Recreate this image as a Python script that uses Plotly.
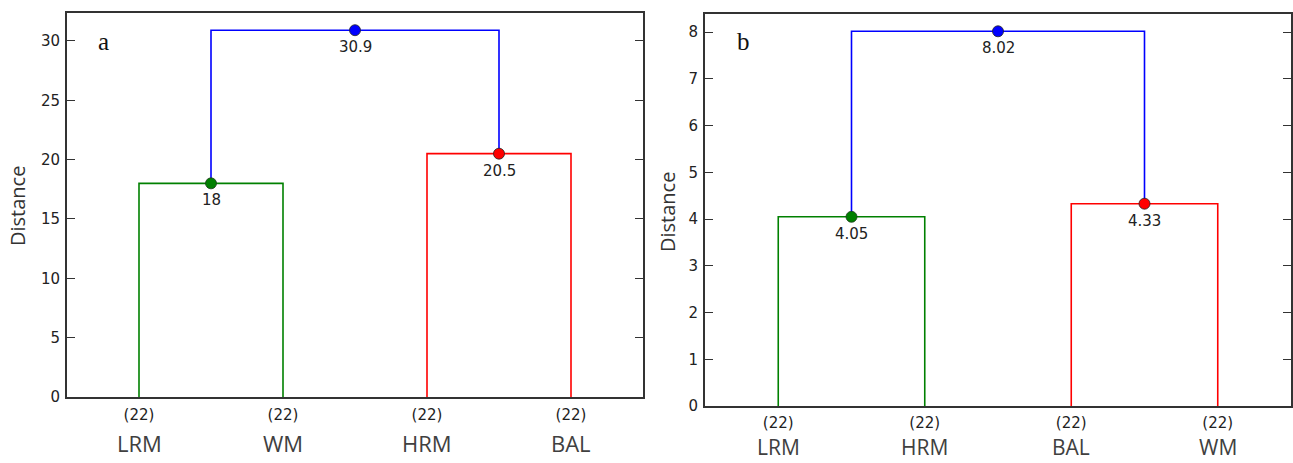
import plotly.graph_objects as go

W, H = 1293, 463

# ---- data ----
leaves_a = ["LRM", "WM", "HRM", "BAL"]
counts_a = ["(22)", "(22)", "(22)", "(22)"]
heights_a = [18, 20.5, 30.9]      # left merge, right merge, root merge

leaves_b = ["LRM", "HRM", "BAL", "WM"]
counts_b = ["(22)", "(22)", "(22)", "(22)"]
heights_b = [4.05, 4.33, 8.02]

link_colors = ["#008000", "#ff0000", "#0000ff"]

fig = go.Figure()


def add_dendro(xa, ya, heights):
    pos = [5 + 10 * i for i in range(4)]
    hl, hr, hroot = heights
    cl = (pos[0] + pos[1]) / 2
    cr = (pos[2] + pos[3]) / 2
    links = [
        ([pos[0], pos[0], pos[1], pos[1]], [0, hl, hl, 0]),
        ([pos[2], pos[2], pos[3], pos[3]], [0, hr, hr, 0]),
        ([cl, cl, cr, cr], [hl, hroot, hroot, hr]),
    ]
    nodes = [(cl, hl), (cr, hr), ((cl + cr) / 2, hroot)]
    for (xs, ys), c in zip(links, link_colors):
        fig.add_trace(go.Scatter(x=xs, y=ys, mode="lines", xaxis=xa, yaxis=ya,
                                 line=dict(color=c, width=1.6), showlegend=False,
                                 hoverinfo="skip"))
    for (nx, ny), c in zip(nodes, link_colors):
        fig.add_trace(go.Scatter(x=[nx], y=[ny], mode="markers", xaxis=xa, yaxis=ya,
                                 marker=dict(color=c, size=11,
                                             line=dict(color="#1a3a1a" if c == "#008000" else "#222", width=0.8)),
                                 showlegend=False))
        fig.add_annotation(x=nx, y=ny, xref=xa, yref=ya, text=f"{ny:g}",
                           showarrow=False, yshift=-17,
                           font=dict(family="DejaVu Sans", size=15, color="#222"))
    return pos


pos_a = add_dendro("x", "y", heights_a)
pos_b = add_dendro("x2", "y2", heights_b)

dom_a_x = [67 / W, 643 / W]
dom_a_y = [1 - 397 / H, 1 - 13 / H]
dom_b_x = [705 / W, 1291 / W]
dom_b_y = [1 - 406 / H, 1 - 14 / H]

tickfont = dict(family="DejaVu Sans", size=15, color="#222")
axline = dict(showline=True, linecolor="#333", linewidth=1.8, showgrid=False, zeroline=False,
              automargin=False)

fig.update_layout(
    width=W, height=H, margin=dict(l=0, r=0, t=0, b=0),
    paper_bgcolor="white", plot_bgcolor="white",
    xaxis=dict(domain=dom_a_x, range=[0, 40], anchor="y", tickvals=pos_a, ticktext=counts_a,
               ticks="", mirror=True, tickfont=tickfont, ticklabelstandoff=3, **axline),
    yaxis=dict(domain=dom_a_y, range=[0, 32.35], anchor="x", dtick=5, ticks="inside", ticklen=8,
               tickcolor="#333", mirror="ticks", tickfont=tickfont, ticklabelstandoff=2, **axline),
    xaxis2=dict(domain=dom_b_x, range=[0, 40], anchor="y2", tickvals=pos_b, ticktext=counts_b,
                ticks="", mirror=True, tickfont=tickfont, ticklabelstandoff=2, **axline),
    yaxis2=dict(domain=dom_b_y, range=[0, 8.39], anchor="x2", dtick=1, ticks="inside", ticklen=8,
                tickcolor="#333", mirror="ticks", tickfont=tickfont, ticklabelstandoff=2, **axline),
)

catfont = dict(family="Open Sans", size=22, color="#404040")
for p, name in zip(pos_a, leaves_a):
    fig.add_annotation(x=p, xref="x", y=1 - 443 / H, yref="paper", text=name,
                       showarrow=False, yanchor="middle", font=catfont)
catfont_b = dict(family="Open Sans", size=21, color="#404040")
for p, name in zip(pos_b, leaves_b):
    fig.add_annotation(x=p, xref="x2", y=1 - 447 / H, yref="paper", text=name,
                       showarrow=False, yanchor="middle", font=catfont_b)

titlefont = dict(family="Open Sans", size=20, color="#333")
fig.add_annotation(x=18 / W, y=1 - 206 / H, xref="paper", yref="paper", text="Distance",
                   textangle=-90, showarrow=False, xanchor="center", yanchor="middle", font=titlefont)
fig.add_annotation(x=667 / W, y=1 - 212 / H, xref="paper", yref="paper", text="Distance",
                   textangle=-90, showarrow=False, xanchor="center", yanchor="middle", font=titlefont)

panelfont = dict(family="Liberation Serif", size=25, color="#111")
fig.add_annotation(x=103 / W, y=1 - 42 / H, xref="paper", yref="paper", text="a",
                   showarrow=False, xanchor="center", yanchor="middle", font=panelfont)
fig.add_annotation(x=743 / W, y=1 - 42 / H, xref="paper", yref="paper", text="b",
                   showarrow=False, xanchor="center", yanchor="middle", font=panelfont)

fig.write_html("out.html", config={"displayModeBar": False},
               post_script="document.body.style.margin='0';document.body.style.overflow='hidden';")
